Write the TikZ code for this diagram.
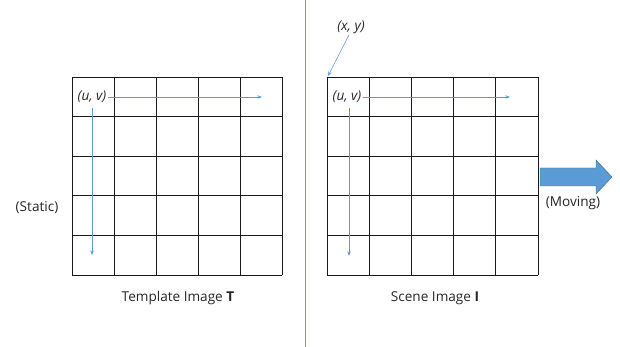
\documentclass[tikz,border=0pt]{standalone}
\usepackage{fontspec}
\setmainfont{Open Sans}
\usetikzlibrary{positioning,arrows.meta}
\definecolor{gDark}{HTML}{1A1A1A}
\definecolor{gText}{HTML}{262626}
\definecolor{gBlue}{HTML}{5B9BD5}
\definecolor{gBlueDark}{HTML}{41719C}
\definecolor{gLight}{HTML}{6B9DD8}
\tikzset{
  lbl/.style={font=\fontsize{11.6}{13}\selectfont, text=gText, inner sep=1pt},
  uvlbl/.style={lbl, font=\fontsize{11.6}{13}\selectfont\itshape},
  axis/.style={-{Stealth[length=4pt,width=3pt]}, gBlue, line width=0.5pt},
  gridlines/.style={gDark, line width=0.8pt}
}
\begin{document}
\begin{tikzpicture}[x=0.03cm, y=-0.03cm]
\useasboundingbox (0,0) rectangle (620,347);
% separator
\draw[gLight, line width=0.6pt] (305,0) -- (305,347);
% the two grids
\foreach \i in {0,...,5} {
  \draw[gridlines] (72+42*\i,77) -- (72+42*\i,275);
  \draw[gridlines] (72,77+39.6*\i) -- (282,77+39.6*\i);
  \draw[gridlines] (327+42.2*\i,77) -- (327+42.2*\i,275);
  \draw[gridlines] (327,77+39.6*\i) -- (538,77+39.6*\i);
}
% template image
\node[uvlbl] (uvT) at (92,97) {(u, v)};
\coordinate (uvTright) at (262,97);
\coordinate (uvTdown) at (92,255);
\draw[axis] (uvT.east) -- (uvTright);
\draw[axis] (92,108) -- (uvTdown);
\node[lbl] (static) at (37,208) {(Static)};
\node[lbl] (capT) at (178,298) {Template Image \textbf{T}};
% scene image
\node[uvlbl] (uvI) at (347,97) {(u, v)};
\coordinate (uvIright) at (510,97);
\coordinate (uvIdown) at (349,256);
\draw[axis] (uvI.east) -- (uvIright);
\draw[axis] (349,108) -- (uvIdown);
\node[uvlbl] (xy) at (351,27) {(x, y)};
\coordinate (corner) at (328,76);
\draw[axis, gLight] (xy.south) ++(-2,0) -- (corner);
\node[lbl] (capI) at (435,298) {Scene Image \textbf{I}};
% moving arrow
\draw[fill=gBlue, draw=gBlueDark, line width=0.4pt]
  (540,168) -- (596,168) -- (596,160) -- (612,177) -- (596,194)
  -- (596,186) -- (540,186) -- cycle;
\node[lbl] (moving) at (573,203) {(Moving)};
\end{tikzpicture}
\end{document}
